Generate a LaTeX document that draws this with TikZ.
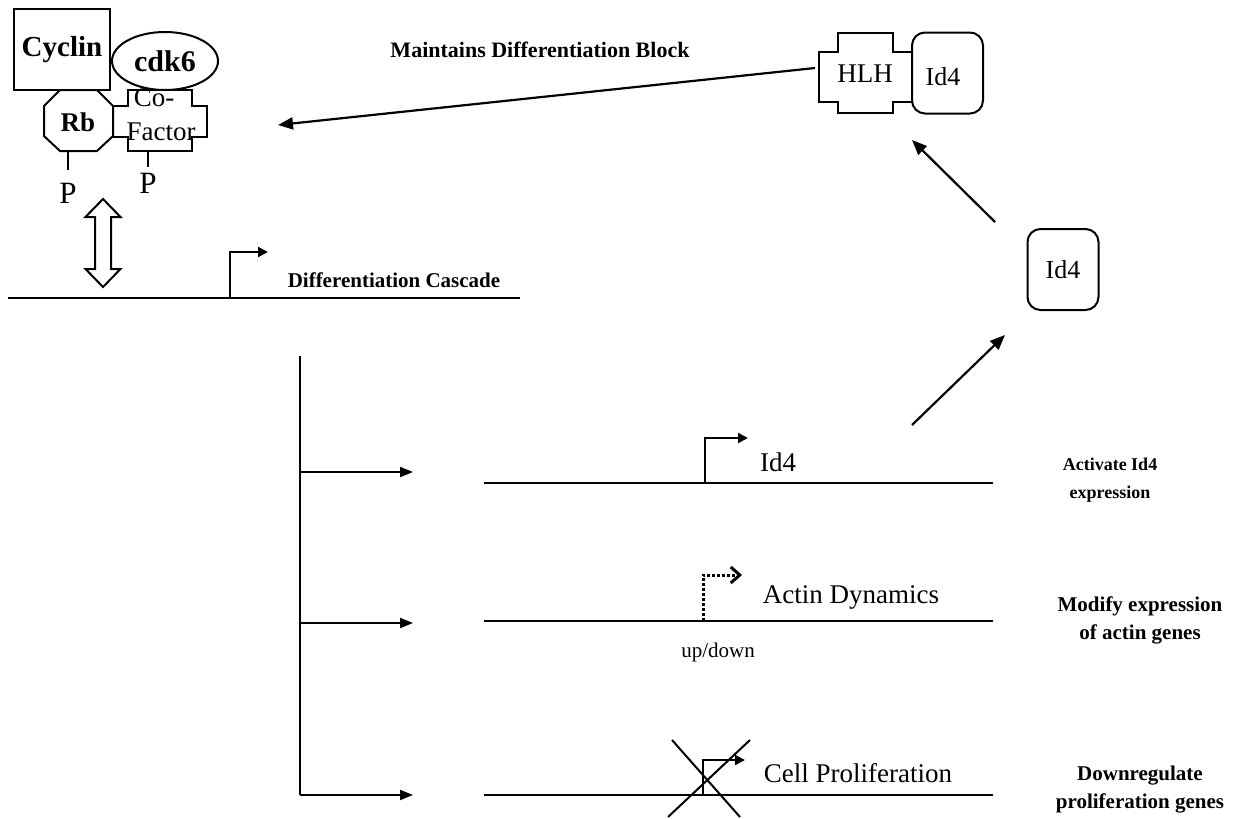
\documentclass[tikz,border=0pt]{standalone}
\usepackage{fontspec}
\setmainfont{Liberation Serif}
\usetikzlibrary{arrows.meta,shapes.geometric}
\begin{document}
\begin{tikzpicture}[x=1pt,y=-1pt,line width=2pt,line join=miter,
  lbl/.style={font=\fontsize{21}{28}\selectfont\bfseries,inner sep=0,align=center},
  gtxt/.style={font=\fontsize{27}{29}\selectfont,inner sep=0},
  boxtxt/.style={font=\fontsize{27}{29}\selectfont,inner sep=0},
  idbox/.style={draw,rounded corners=13pt,minimum width=71pt,minimum height=81pt,inner sep=0,font=\fontsize{26}{28}\selectfont},
  bigarrow/.style={-{Triangle[length=15pt,width=12pt]},line width=2.2pt},
  brarrow/.style={-{Triangle[length=13pt,width=10pt]},line width=2pt},
  promo/.style={-{Triangle[length=10pt,width=10pt]},line width=2pt},
  gene/.style={line width=2.4pt}
]
\useasboundingbox (0,0) rectangle (1237,819);

% ---- complex top left
\node[draw,minimum width=96pt,minimum height=81pt,inner sep=0,
      font=\fontsize{29}{31}\selectfont\bfseries] (cyclin) at (62,49.5) {Cyclin};
\node[draw,ellipse,minimum width=106pt,minimum height=58pt,inner sep=0,
      font=\fontsize{30}{32}\selectfont\bfseries] (cdk) at (165,61) {cdk6};
\draw (60,90) -- (97,90) -- (113,106) -- (113,136) -- (97,151) -- (60,151)
      -- (44,136) -- (44,106) -- cycle;
\node[font=\fontsize{27}{29}\selectfont\bfseries,inner sep=0] (rb) at (78,122) {Rb};
\draw (128,90) -- (192,90) -- (192,106) -- (207,106) -- (207,137) -- (192,137)
      -- (192,151) -- (128,151) -- (128,137) -- (113,137) -- (113,106)
      -- (128,106) -- cycle;
\node[boxtxt] (co) at (154,98) {Co-};
\node[boxtxt] (factor) at (161,132) {Factor};
\coordinate (rbs) at (68,151);
\coordinate (cfs) at (148,151);
\node[font=\fontsize{31}{33}\selectfont,inner sep=0] (p1) at (68,193) {P};
\node[font=\fontsize{31}{33}\selectfont,inner sep=0] (p2) at (148,183) {P};
\draw (rbs) -- (68,170);
\draw (cfs) -- (148,167);

% ---- open double arrow
\coordinate (dbl) at (103,243);
\draw (103,199) -- (120.5,217) -- (111,217) -- (111,269) -- (120.5,269) -- (103,287)
      -- (85.5,269) -- (95,269) -- (95,217) -- (85.5,217) -- cycle;

% ---- differentiation cascade gene
\coordinate (g0a) at (8,298);
\coordinate (g0b) at (520,298);
\draw[gene] (g0a) -- (g0b);
\coordinate (pr0) at (230,298);
\coordinate (pr0t) at (268,252);
\draw[promo] (pr0) |- (pr0t);
\node[lbl] (dc) at (394,280) {Differentiation Cascade};

% ---- HLH / Id4 complex
\draw (838,33) -- (893,33) -- (893,52) -- (912,52) -- (912,102) -- (893,102)
      -- (893,113) -- (838,113) -- (838,102) -- (819,102) -- (819,52)
      -- (838,52) -- cycle;
\node[font=\fontsize{27}{29}\selectfont,inner sep=0] (hlh) at (865,74) {HLH};
\node[idbox] (id4top) at (947.5,73) {};
\node[font=\fontsize{26}{28}\selectfont,inner sep=0] (id4toptxt) at (943,77) {Id4};

\node[lbl,font=\fontsize{22}{24}\selectfont\bfseries] (mdb) at (540,50) {Maintains Differentiation Block};
\coordinate (mstart) at (815,68);
\coordinate (mend) at (278,125);
\draw[bigarrow] (mstart) -- (mend);

% ---- free Id4
\node[idbox] (id4low) at (1063,269.5) {Id4};
\coordinate (a1s) at (995,222);
\coordinate (a1e) at (912,140);
\draw[bigarrow] (a1s) -- (a1e);
\coordinate (a2s) at (912,425);
\coordinate (a2e) at (1005,335);
\draw[bigarrow] (a2s) -- (a2e);

% ---- branching
\coordinate (vtop) at (300,356);
\coordinate (b1) at (300,472);
\coordinate (b2) at (300,623);
\coordinate (b3) at (300,795);
\coordinate (t1) at (413,472);
\coordinate (t2) at (413,623);
\coordinate (t3) at (413,795);
\draw (vtop) -- (b3);
\draw[brarrow] (b1) -- (t1);
\draw[brarrow] (b2) -- (t2);
\draw[brarrow] (b3) -- (t3);

% ---- gene rows
\coordinate (r1a) at (484,483); \coordinate (r1b) at (993,483);
\coordinate (r2a) at (484,621); \coordinate (r2b) at (993,621);
\coordinate (r3a) at (484,795); \coordinate (r3b) at (993,795);
\draw[gene] (r1a) -- (r1b);
\draw[gene] (r2a) -- (r2b);
\draw[gene] (r3a) -- (r3b);

\coordinate (p1b) at (705,483); \coordinate (p1t) at (748,438);
\draw[promo] (p1b) |- (p1t);
\node[gtxt] (id4g) at (778,462) {Id4};

\coordinate (p2b) at (703,621); \coordinate (p2t) at (742,575);
\draw[dotted,line width=3pt,-{Straight Barb[length=9pt,width=16pt,line width=3pt]}] (p2b) |- (p2t);
\node[gtxt] (actin) at (851,597) {Actin Dynamics};
\node[font=\fontsize{21}{23}\selectfont,inner sep=0] (updown) at (718,652) {up/down};

\coordinate (p3b) at (703,795); \coordinate (p3t) at (745,760);
\draw[promo] (p3b) |- (p3t);
\coordinate (x1a) at (672,740); \coordinate (x1b) at (740,817);
\coordinate (x2a) at (750,740); \coordinate (x2b) at (668,817);
\draw (x1a) -- (x1b);
\draw (x2a) -- (x2b);
\node[gtxt] (cellp) at (858,773) {Cell Proliferation};

% ---- right annotations
\node[lbl,font=\fontsize{18}{28}\selectfont\bfseries] (ann1) at (1110,480) {Activate Id4\\expression};
\node[lbl] (ann2) at (1140,620) {Modify expression\\of actin genes};
\node[lbl] (ann3) at (1140,790) {Downregulate\\proliferation genes};
\end{tikzpicture}
\end{document}
